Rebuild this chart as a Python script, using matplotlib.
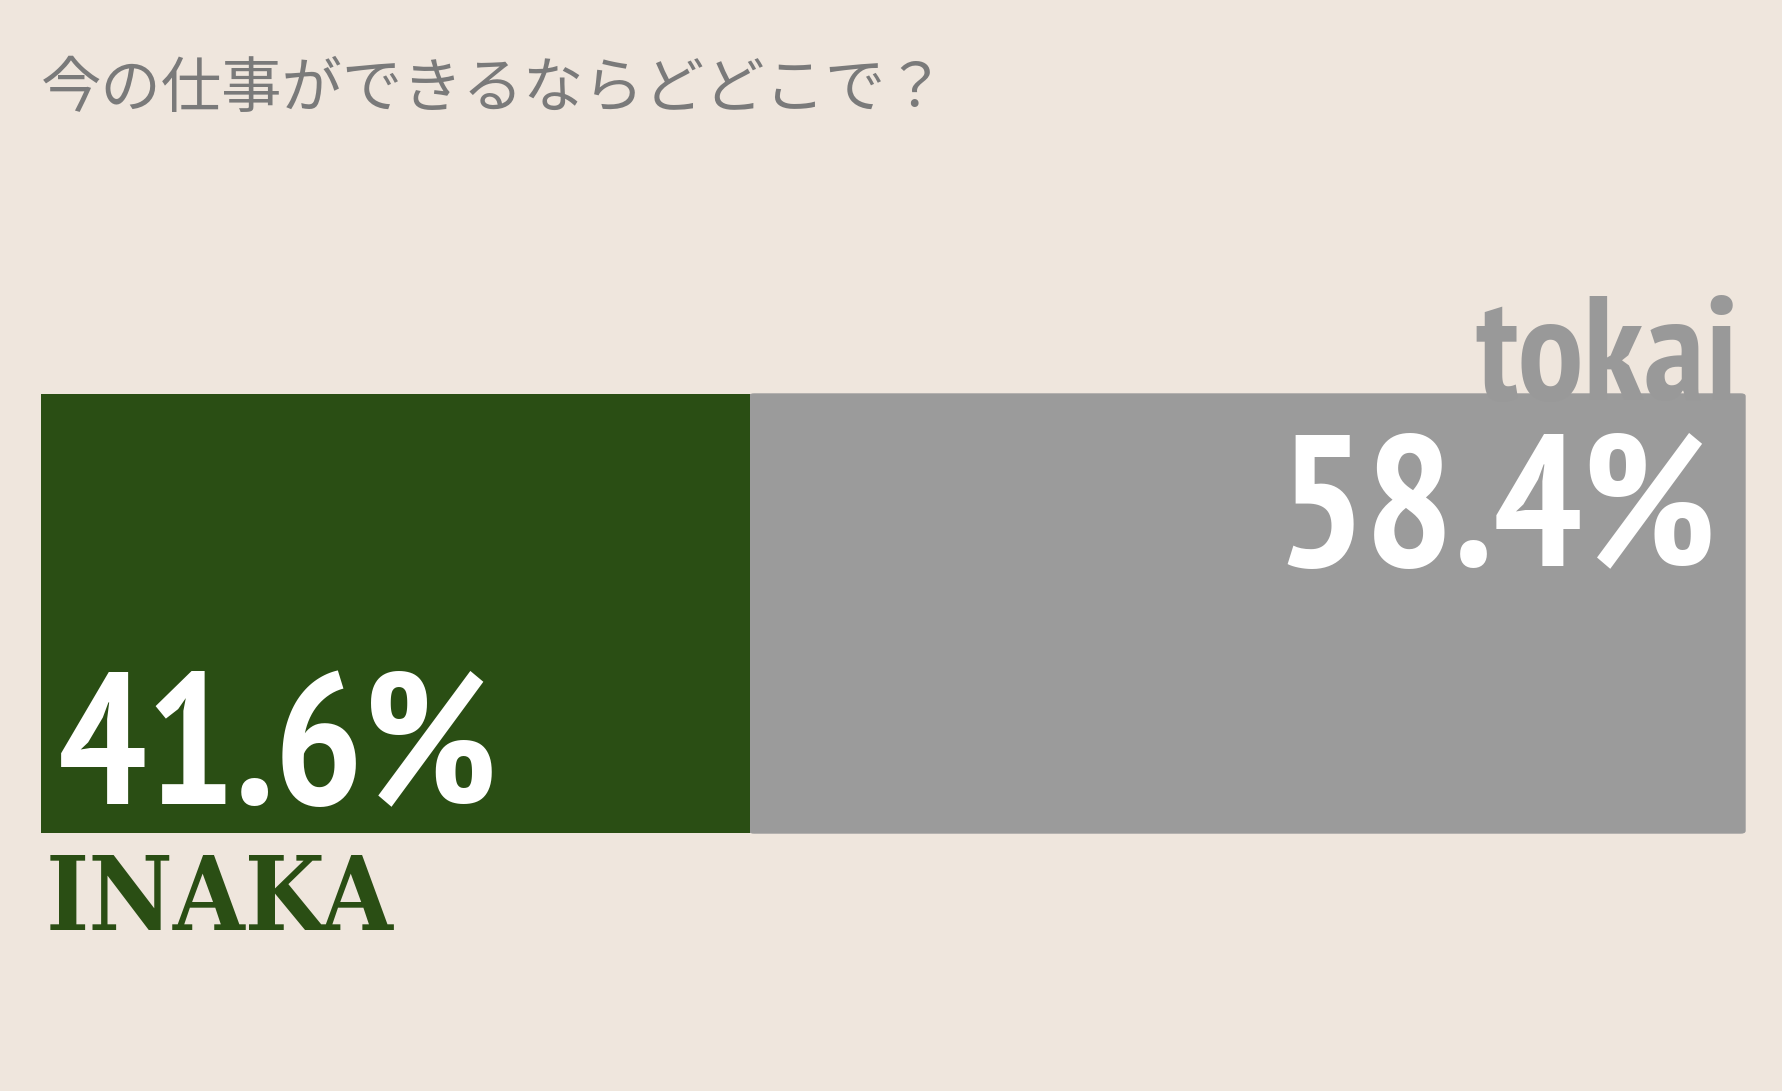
import matplotlib.pyplot as plt
from matplotlib import font_manager as fm
from matplotlib.patches import FancyBboxPatch

W, H = 1783, 1091

title = "今の仕事ができるならどどこで？"
labels = ["INAKA", "tokai"]
shares = [41.6, 58.4]
colors = ["#2a4e14", "#9b9b9b"]
bg = "#efe6dd"


def pick_font(keys, fallback):
    # first installed font file whose name holds all the keys
    for key_set in keys:
        for f in fm.fontManager.ttflist:
            name = f.fname.lower().replace("-", "").replace("_", "")
            if all(k in name for k in key_set):
                return fm.FontProperties(fname=f.fname)
    return fm.FontProperties(family=fallback, weight="bold")


sans_cond = pick_font([("sansnarrow", "bold"), ("sanscondensed", "bold"),
                       ("condensed", "bold")], "DejaVu Sans")
serif_cond = pick_font([("serifcondensed", "bold"), ("serif", "bold")], "DejaVu Serif")

fig = plt.figure(figsize=(W / 100, H / 100), dpi=100, facecolor=bg)

# axes = bar area, in pixels of the reference
x0, x1, ytop, ybot = 41, 1745, 394, 833
ax = fig.add_axes([x0 / W, (H - ybot) / H, (x1 - x0) / W, (ybot - ytop) / H])
ax.set_xlim(0, 100)
ax.set_ylim(-0.5, 0.5)
ax.axis("off")

bars = ax.barh([0, 0], shares, left=[0, shares[0]], height=1.0,
               color=colors, zorder=3)

# slight rounding on the right end of the grey bar
g = bars[1]
rp = FancyBboxPatch((g.get_x(), -0.5), g.get_width(), 1.0,
                    boxstyle="round,pad=0,rounding_size=0.25",
                    mutation_aspect=0.02, color=colors[1], zorder=2)
rp.set_clip_on(False)
g.set_width(g.get_width() - 0.3)
ax.add_patch(rp)

# title
fig.text(41 / W, 1 - 90 / H, title, family=["Noto Sans CJK JP", "DejaVu Sans"],
         fontsize=43.5, color="#7a7a7a", ha="left", va="center")

# tokai label sitting behind the bar
fig.text(1738 / W, 1 - 400 / H, labels[1], fontproperties=sans_cond,
         fontsize=106, color="#999999", ha="right", va="baseline", zorder=1)

# percentages
ax.text(shares[0] + shares[1] - 1.7, 0.5 - (566 - ytop) / (ybot - ytop),
        f"{shares[1]}%", fontproperties=sans_cond, fontsize=134,
        color="white", ha="right", va="baseline", zorder=5)
ax.text(1.0, 0.5 - (804 - ytop) / (ybot - ytop),
        f"{shares[0]}%", fontproperties=sans_cond, fontsize=134,
        color="white", ha="left", va="baseline", zorder=5)

# INAKA label
fig.text(46 / W, 1 - 930 / H, labels[0], fontproperties=serif_cond,
         fontsize=74, color=colors[0], ha="left", va="baseline")

fig.savefig("out.png", dpi=100, facecolor=bg)
